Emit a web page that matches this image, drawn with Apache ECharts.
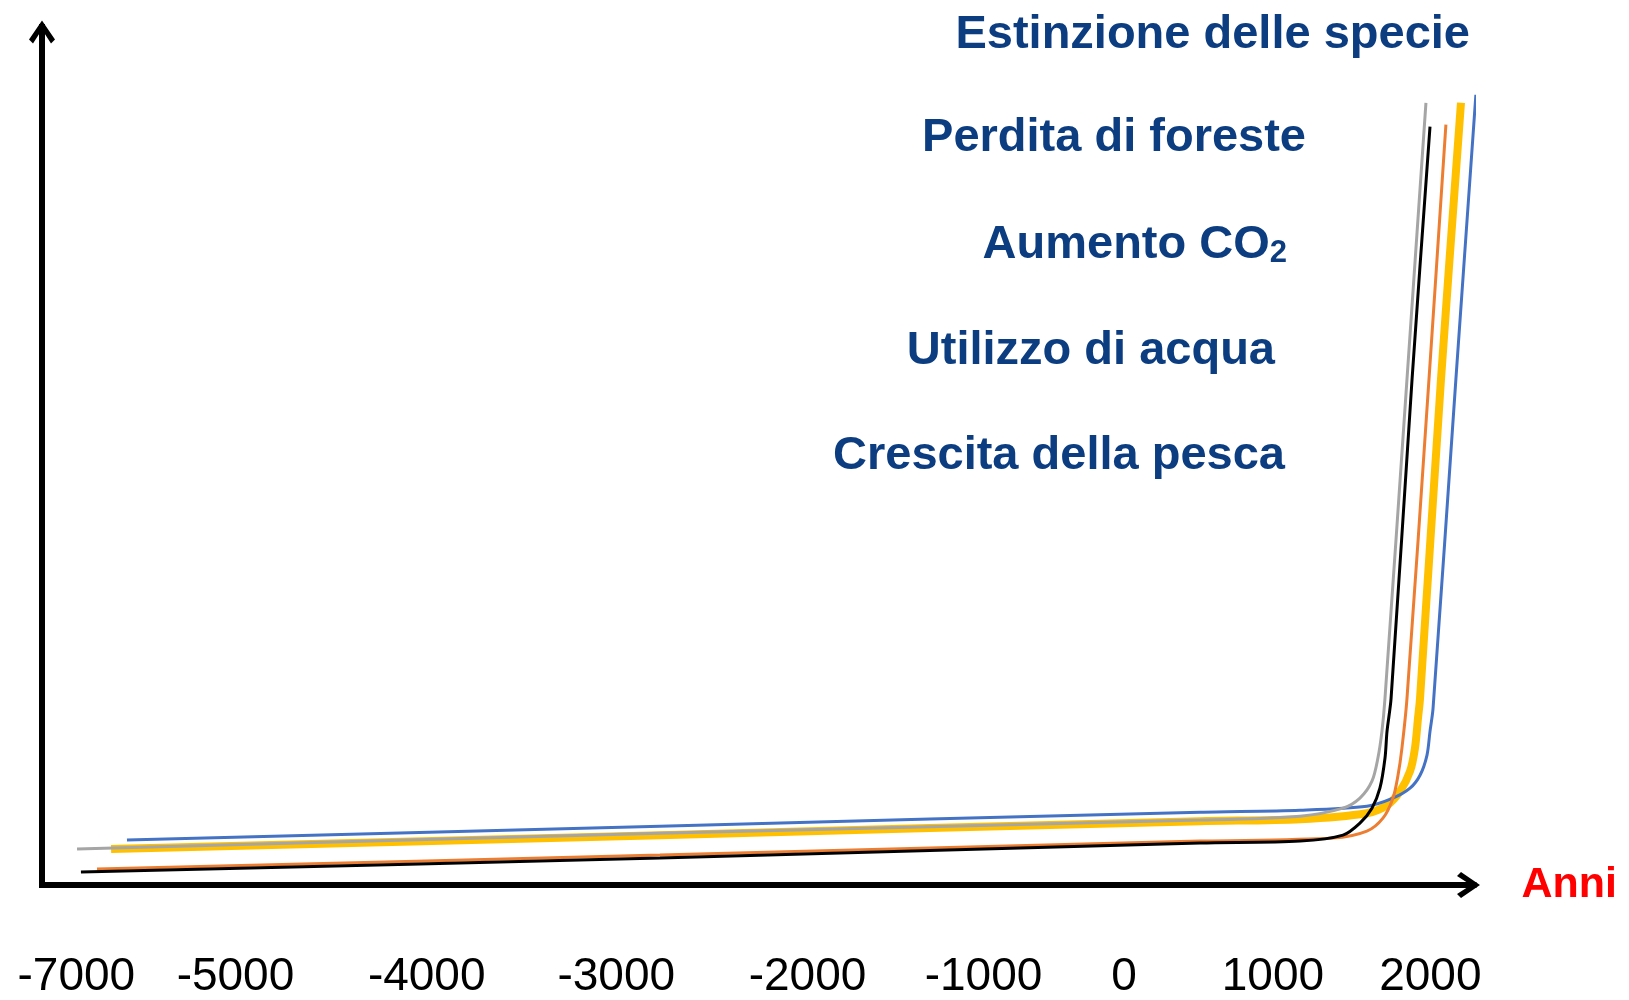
<!DOCTYPE html>
<html>
<head>
<meta charset="utf-8">
<script src="https://cdn.jsdelivr.net/npm/echarts@6/dist/echarts.min.js"></script>
<style>
html,body{margin:0;padding:0;background:#ffffff;}
#chart{width:1629px;height:1000px;}
</style>
</head>
<body>
<div id="chart"></div>
<script>
// Tick labels of the time axis and where each sits along the (schematic) axis
const tickLabels = ['-7000', '-5000', '-4000', '-3000', '-2000', '-1000', '0', '1000', '2000'];
const tickValues = [0.02, 0.96, 2.09, 3.21, 4.34, 5.38, 6.21, 7.09, 8.02];

// Curves, as [x (axis units), y (relative value)]
const yellowCurve = [
  [0.225, 4.16], [3.468, 5.77], [6.659, 7.39], [7.250, 7.62], [7.645, 8.31], [7.764, 9.24], [7.841, 10.85],
  [7.900, 13.16], [7.929, 15.82], [7.947, 19.28], [7.959, 21.59], [8.083, 58.55], [8.201, 90.53]
];
const blueCurve = [
  [0.319, 5.20], [3.468, 6.81], [6.659, 8.43], [7.250, 8.66], [7.645, 9.12], [7.799, 10.05], [7.900, 11.20],
  [7.959, 12.70], [8.000, 15.01], [8.018, 17.78], [8.036, 20.44], [8.171, 58.55], [8.289, 91.45]
];
const grayCurve = [
  [0.024, 4.16], [3.468, 6.00], [6.659, 7.51], [7.250, 7.97], [7.504, 8.89], [7.604, 10.05], [7.675, 12.01],
  [7.710, 14.67], [7.734, 17.78], [7.752, 21.59], [7.882, 58.55], [7.994, 90.53]
];
const orangeCurve = [
  [0.142, 1.85], [3.468, 3.46], [6.659, 5.08], [7.445, 5.43], [7.645, 6.24], [7.740, 7.74], [7.799, 10.05],
  [7.829, 12.70], [7.852, 15.82], [7.882, 21.59], [8.012, 58.55], [8.112, 87.99]
];
const blackCurve = [
  [0.047, 1.50], [3.468, 3.12], [6.659, 4.85], [7.250, 5.08], [7.504, 5.77], [7.604, 7.16], [7.675, 8.89],
  [7.722, 11.20], [7.752, 14.67], [7.764, 17.78], [7.788, 21.59], [7.912, 58.55], [8.018, 87.76]
];

// Annotation texts
const annotations = [
  'Estinzione delle specie',
  'Perdita di foreste',
  'Aumento CO{sub|2}',
  'Utilizzo di acqua',
  'Crescita della pesca'
];
const xAxisName = 'Anni';

const chevron = 'path://M13,0L26,19L22,23L13,9L4,23L0,19Z';
const textBlue = '#0B3D80';
const annotRight = [1470, 1306, 1287, 1275, 1285];
const annotMid = [35, 138, 245, 351, 456];

const chart = echarts.init(document.getElementById('chart'), null, {renderer: 'canvas'});

function lineSeries(name, data, color, width) {
  return {
    name: name,
    type: 'line',
    data: data,
    showSymbol: false,
    smooth: 0.3,
    lineStyle: {color: color, width: width},
    itemStyle: {color: color},
    emphasis: {disabled: true},
    animation: false
  };
}

chart.setOption({
  backgroundColor: '#ffffff',
  animation: false,
  grid: {left: 42, right: 155.5, top: 27, bottom: 113, containLabel: false},
  xAxis: {
    type: 'value',
    min: -0.183,
    max: 8.275,
    name: xAxisName,
    nameLocation: 'end',
    nameGap: 48,
    nameTextStyle: {color: '#FF0000', fontSize: 43, fontWeight: 'bold', fontFamily: 'Liberation Sans'},
    axisLine: {
      show: true,
      onZero: false,
      symbol: ['none', chevron],
      symbolSize: [26, 23],
      symbolOffset: [0, -5],
      lineStyle: {color: '#000000', width: 6, cap: 'square'}
    },
    axisTick: {show: false},
    splitLine: {show: false},
    axisLabel: {
      customValues: tickValues,
      formatter: function (v) {
        const i = tickValues.indexOf(v);
        return i >= 0 ? tickLabels[i] : '';
      },
      margin: 69,
      color: '#000000',
      fontSize: 46,
      fontFamily: 'Liberation Sans'
    }
  },
  yAxis: {
    type: 'value',
    min: 0,
    max: 99.3,
    axisLine: {
      show: true,
      onZero: false,
      symbol: ['none', chevron],
      symbolSize: [26, 23],
      symbolOffset: [0, -5],
      lineStyle: {color: '#000000', width: 6, cap: 'square'}
    },
    axisTick: {show: false},
    splitLine: {show: false},
    axisLabel: {show: false}
  },
  graphic: annotations.map(function (t, i) {
    return {
      type: 'text',
      x: annotRight[i],
      y: annotMid[i],
      silent: true,
      style: {
        text: t,
        align: 'right',
        verticalAlign: 'middle',
        fill: textBlue,
        fontSize: 47,
        fontWeight: 'bold',
        fontFamily: 'Liberation Sans',
        rich: {
          sub: {fontSize: 31, fontWeight: 'bold', fontFamily: 'Liberation Sans', fill: textBlue, verticalAlign: 'bottom'}
        }
      }
    };
  }),
  series: [
    lineSeries('Serie giallo', yellowCurve, '#FFC000', 8),
    lineSeries('Serie blu', blueCurve, '#4472C4', 3),
    lineSeries('Serie grigio', grayCurve, '#A5A5A5', 3),
    lineSeries('Serie arancio', orangeCurve, '#ED7D31', 3),
    lineSeries('Serie nero', blackCurve, '#000000', 3)
  ]
});
</script>
</body>
</html>
